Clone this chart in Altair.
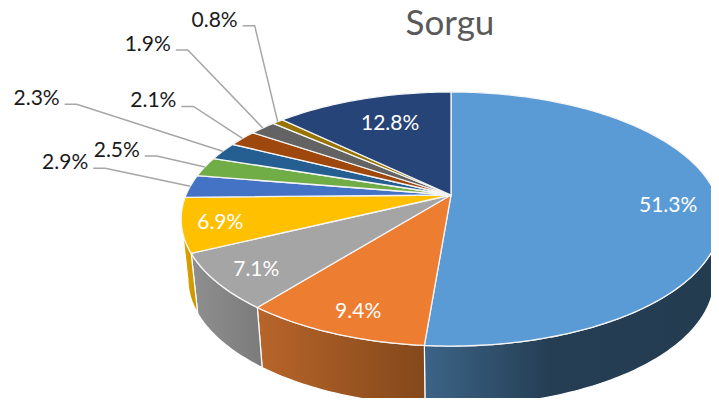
import math
import altair as alt

# ---- chart values ----
shares = [51.3, 9.4, 7.1, 6.9, 2.9, 2.5, 2.3, 2.1, 1.9, 0.8, 12.8]
labels = ["51.3%", "9.4%", "7.1%", "6.9%", "2.9%", "2.5%", "2.3%", "2.1%", "1.9%", "0.8%", "12.8%"]
title_text = "Sorgu"
top_colors = ["#5b9bd5", "#ed7d31", "#a5a5a5", "#ffc000", "#4472c4", "#70ad47",
              "#255e91", "#9e480e", "#636363", "#997300", "#264478"]

# ---- layout of the tilted pie (perspective view of a disc) ----
CX, CY, RX, RY, TILT = 451.0, 195.0, 265.0, 122.5, 0.189
DEPTH, SHRINK = 60.0, 0.975
FONT = "Lato"

# offsets of inside labels from their slice's anchor at 80% radius
inside_offset = {0: (4, 7), 1: (-2, 11), 2: (-12, 7), 3: (-17, 4), 10: (12, 8)}
# offset of the leader's elbow from the slice's rim point
leader_offset = {4: (-85, -18), 5: (-48, -11), 6: (-146, -47), 7: (-49, -32),
                 8: (-75, -78), 9: (-23, -96)}

# side walls: slice index -> (first angle, last angle limits, gradient stops left to right)
wall_style = {
    0: (101, None, [(0, "#3c6487"), (0.42, "#253e54"), (1, "#233c50")]),
    1: (None, None, [(0, "#b8652a"), (1, "#83481b")]),
    2: (None, None, [(0, "#8f8f8f"), (1, "#7b7b7b")]),
    3: (None, 259, [(0, "#e0a800"), (1, "#c79200")]),
}


def top_point(theta_deg, r=1.0):
    t = math.radians(theta_deg)
    w = 1 + TILT * r * math.cos(t)
    return (CX + RX * r * math.sin(t) / w, CY - RY * r * math.cos(t) / w)


def bottom_point(theta_deg):
    x, y = top_point(theta_deg)
    return (CX + (x - CX) * SHRINK, y + DEPTH)


def sweep(a, b):
    n = max(2, int(abs(b - a)) + 2)
    return [a + (b - a) * i / (n - 1) for i in range(n)]


bounds = [0.0]
for s in shares:
    bounds.append(bounds[-1] + s * 3.6)
mids = [(bounds[i] + bounds[i + 1]) / 2 for i in range(len(shares))]


def poly(points, **props):
    ring = [list(p) for p in points]
    ring.append(ring[0])
    return {"type": "Feature", "properties": props,
            "geometry": {"type": "Polygon", "coordinates": [ring]}}


projection = dict(type="identity", scale=1, translate=[-8, -8])
layers = []

# walls
for i, (lo, hi, stops) in wall_style.items():
    a = bounds[i] if lo is None else lo
    b = bounds[i + 1] if hi is None else hi
    angles = sweep(a, b)
    pts = [top_point(t) for t in angles] + [bottom_point(t) for t in reversed(angles)]
    grad = alt.Gradient(
        gradient="linear", x1=0, x2=1, y1=0, y2=0,
        stops=[alt.GradientStop(offset=o, color=c) for o, c in stops],
    )
    layers.append(
        alt.Chart(alt.Data(values=[poly(pts, name=str(i))]))
        .mark_geoshape(fill=grad, stroke="#ffffff", strokeWidth=1.2)
        .project(**projection)
    )

# top faces
tops = []
for i in range(len(shares)):
    pts = [(CX, CY)] + [top_point(t) for t in sweep(bounds[i], bounds[i + 1])]
    tops.append(poly(pts, name=labels[i]))
layers.append(
    alt.Chart(alt.Data(values=tops))
    .mark_geoshape(stroke="#f4f4f4", strokeWidth=1.3)
    .encode(color=alt.Color("properties.name:N", legend=None,
                            scale=alt.Scale(domain=labels, range=top_colors)))
    .project(**projection)
)

# leader lines
lines = []
outside = []
for i, (dx, dy) in leader_offset.items():
    ax, ay = top_point(mids[i])
    ex, ey = ax + dx, ay + dy
    lines.append({"type": "Feature", "properties": {"name": labels[i]},
                  "geometry": {"type": "LineString",
                               "coordinates": [[ex - 12, ey], [ex, ey], [ax, ay]]}})
    outside.append({"lon": ex - 17, "lat": ey - 5, "label": labels[i]})
layers.append(
    alt.Chart(alt.Data(values=lines))
    .mark_geoshape(filled=False, stroke="#a6a6a6", strokeWidth=1.5)
    .project(**projection)
)

# labels
layers.append(
    alt.Chart(alt.Data(values=outside))
    .mark_text(align="right", baseline="middle", font=FONT, fontSize=21, color="#1a1a1a")
    .encode(longitude="lon:Q", latitude="lat:Q", text="label:N")
    .project(**projection)
)
inside = []
for i, (dx, dy) in inside_offset.items():
    ax, ay = top_point(mids[i], 0.8)
    inside.append({"lon": ax + dx, "lat": ay + dy, "label": labels[i]})
layers.append(
    alt.Chart(alt.Data(values=inside))
    .mark_text(align="center", baseline="middle", font=FONT, fontSize=21, color="#ffffff")
    .encode(longitude="lon:Q", latitude="lat:Q", text="label:N")
    .project(**projection)
)
layers.append(
    alt.Chart(alt.Data(values=[{"lon": CX - 1, "lat": 35, "label": title_text}]))
    .mark_text(align="center", baseline="alphabetic", font=FONT, fontSize=35, color="#595959")
    .encode(longitude="lon:Q", latitude="lat:Q", text="label:N")
    .project(**projection)
)

chart = (
    alt.layer(*layers)
    .properties(width=703, height=390, padding=0, autosize=alt.AutoSizeParams(type="none"))
    .configure_view(stroke=None)
)
chart.save("out.html", embed_options={"renderer": "svg", "actions": False})
